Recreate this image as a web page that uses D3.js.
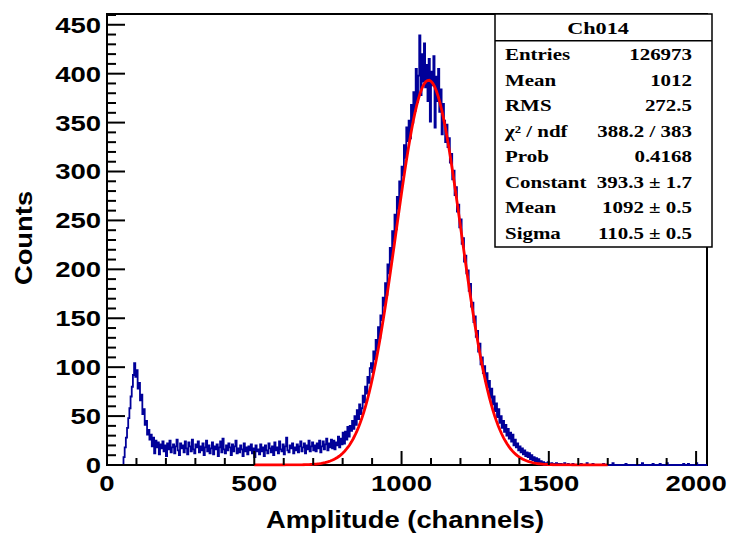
<!DOCTYPE html>
<html>
<head>
<meta charset="utf-8">
<script src="https://cdn.jsdelivr.net/npm/d3@7/dist/d3.min.js"></script>
<style>
  body { margin: 0; background: #fff; }
  svg { display: block; }
</style>
</head>
<body>
<svg width="730" height="534"></svg>
<script>
// histogram: one value per 4 channels (counts per channel)
const binWidth = 4;
const counts = [
    0, 0, 0, 0, 0, 0, 0, 0, 0, 0, 0, 0, 0, 0, 8, 18,
    28, 38, 48, 58, 70, 80, 92, 104, 90, 97, 78, 84, 66, 72, 52, 57,
    41, 45, 31, 36, 26, 31, 19, 28, 12, 25, 18, 23, 11, 21, 17, 24,
    14, 20, 9, 22, 16, 25, 13, 18, 21, 12, 19, 26, 15, 10, 22, 17,
    20, 13, 24, 17, 11, 23, 19, 14, 26, 16, 12, 21, 18, 24, 13, 19,
    15, 22, 10, 18, 25, 14, 20, 12, 17, 23, 11, 19, 16, 21, 9, 18,
    24, 13, 27, 16, 12, 20, 15, 22, 18, 10, 21, 14, 19, 25, 12, 17,
    13, 20, 16, 9, 22, 14, 18, 11, 19, 15, 21, 12, 17, 8, 20, 14,
    16, 11, 21, 14, 18, 9, 20, 15, 12, 22, 17, 13, 19, 10, 23, 15,
    18, 12, 24, 16, 14, 21, 11, 19, 28, 15, 13, 20, 17, 22, 12, 18,
    15, 21, 13, 19, 24, 14, 18, 22, 12, 20, 16, 25, 14, 19, 23, 15,
    20, 14, 22, 17, 25, 13, 19, 24, 16, 21, 27, 15, 22, 18, 26, 17,
    25, 16, 23, 20, 29, 18, 27, 21, 33, 22, 34, 26, 39, 29, 40, 35,
    45, 37, 50, 41, 56, 47, 62, 52, 58, 71, 64, 80, 73, 90, 84, 99,
    104, 95, 116, 108, 128, 117, 141, 130, 153, 148, 171, 163, 186, 174, 205, 196,
    222, 210, 239, 228, 256, 241, 274, 262, 290, 279, 305, 296, 327, 314, 345, 331,
    352, 334, 368, 350, 381, 362, 405, 371, 398, 439, 378, 420, 392, 431, 386, 409,
    372, 415, 351, 402, 388, 418, 345, 397, 372, 405, 361, 384, 338, 369, 352, 330,
    348, 325, 334, 309, 318, 292, 301, 276, 284, 259, 266, 243, 251, 226, 232, 208,
    214, 196, 199, 178, 185, 162, 166, 146, 152, 131, 137, 116, 124, 103, 110, 94,
    101, 86, 94, 79, 86, 69, 78, 62, 70, 55, 63, 49, 57, 43, 50, 38,
    45, 34, 41, 30, 37, 27, 33, 24, 31, 20, 26, 18, 22, 15, 19, 13,
    17, 11, 15, 9, 13, 8, 12, 6, 10, 5, 8, 4, 7, 3, 6, 2,
    4, 1, 3, 0, 2, 1, 3, 0, 1, 2, 0, 1, 0, 2, 0, 1,
    0, 1, 0, 0, 2, 0, 0, 1, 0, 0, 0, 1, 0, 0, 0, 0,
    0, 0, 1, 0, 0, 0, 0, 2, 0, 0, 0, 0, 1, 0, 0, 0,
    0, 0, 0, 0, 0, 1, 0, 0, 0, 0, 0, 0, 0, 2, 0, 0,
    0, 0, 0, 0, 0, 0, 0, 0, 1, 0, 0, 0, 0, 0, 0, 0,
    0, 0, 0, 0, 0, 0, 2, 0, 0, 0, 0, 0, 0, 0, 0, 1,
    0, 0, 0, 0, 0, 1, 0, 0, 0, 0, 0, 2, 0, 0, 0, 0,
    0, 0, 0, 0, 0, 0, 0, 0, 0, 1, 0, 0, 0, 1, 0, 0,
    0, 0, 0, 0, 2, 0, 0, 0, 0, 0, 0, 0, 0, 0, 0, 0,
];

// gaussian fit: constant, mean, sigma (from the stats box) and drawn range
const fitParams = [393.3, 1092, 110.5];
const fitRange = [500, 1700];

const xTicks = [0, 500, 1000, 1500, 2000];
const yTicks = [0, 50, 100, 150, 200, 250, 300, 350, 400, 450];

const statTitle = "Ch014";
const statLabels = ["Entries", "Mean", "RMS", "χ² / ndf", "Prob", "Constant", "Mean", "Sigma"];
const statValues = ["126973", "1012", "272.5", "388.2 / 383", "0.4168", "393.3 ± 1.7", "1092 ± 0.5", "110.5 ± 0.5"];

const fLeft = 107, fRight = 707, fTop = 14, fBottom = 465;

const x = d3.scaleLinear().domain([0, 2037]).range([fLeft, fRight]);
const y = d3.scaleLinear().domain([0, 461]).range([fBottom, fTop]);

const svg = d3.select("svg");
const sans = "'Liberation Sans', Arial, Helvetica, sans-serif";
const serif = "'Liberation Serif', 'Times New Roman', serif";

// text placed with a transform so it can be widened like the original fonts
function label(g, str, px, py, o) {
    const t = g.append("text")
        .attr("transform", `translate(${px},${py})${o.rot ? ` rotate(${o.rot})` : ""} scale(${o.sx || 1},1)`)
        .attr("text-anchor", o.anchor || "start")
        .attr("font-family", o.family || sans)
        .attr("font-weight", "bold")
        .attr("font-size", o.size)
        .text(str);
    if (o.dy) t.attr("dy", o.dy);
    return t;
}

svg.append("defs").append("clipPath").attr("id", "frame")
    .append("rect").attr("x", fLeft).attr("y", fTop).attr("width", fRight - fLeft).attr("height", fBottom - fTop + 1.5);

// frame (drawn under the histogram, as ROOT does)
svg.append("rect")
    .attr("x", fLeft).attr("y", fTop).attr("width", fRight - fLeft).attr("height", fBottom - fTop)
    .attr("fill", "none").attr("stroke", "#000").attr("stroke-width", 2);

// histogram as step line
const pts = counts.map((c, i) => [i * binWidth, c]);
pts.push([counts.length * binWidth, counts[counts.length - 1]]);
const histLine = d3.line()
    .x((d) => x(d[0]))
    .y((d) => y(d[1]))
    .curve(d3.curveStepAfter);

const plot = svg.append("g").attr("clip-path", "url(#frame)");
plot.append("path")
    .attr("d", histLine(pts))
    .attr("fill", "none")
    .attr("stroke", "#000099")
    .attr("stroke-width", 1.8);

// fit curve
const [A, mu, sig] = fitParams;
const fitPts = d3.range(fitRange[0], fitRange[1] + 1, 6).map((v) => [v, A * Math.exp(-0.5 * ((v - mu) / sig) ** 2)]);
plot.append("path")
    .attr("d", d3.line().x((d) => x(d[0])).y((d) => y(d[1]))(fitPts))
    .attr("fill", "none")
    .attr("stroke", "#ff0000")
    .attr("stroke-width", 2.8);

// ticks
const tickG = svg.append("g").attr("stroke", "#000").attr("stroke-width", 2);
d3.range(0, 461, 10).forEach((v) => {
    const len = v % 50 === 0 ? 18 : 9;
    tickG.append("line").attr("x1", fLeft).attr("x2", fLeft + len).attr("y1", y(v)).attr("y2", y(v));
});
d3.range(0, 2037, 100).forEach((v) => {
    const len = v % 500 === 0 ? 14 : 7;
    tickG.append("line").attr("x1", x(v)).attr("x2", x(v)).attr("y1", fBottom).attr("y2", fBottom - len);
});

// tick labels
const lab = svg.append("g");
yTicks.forEach((v) => label(lab, v, fLeft - 6, y(v), { anchor: "end", size: 22, sx: 1.25, dy: "0.36em" }));
xTicks.forEach((v) => label(lab, v, x(v), 491, { anchor: "middle", size: 22, sx: 1.25 }));

// axis titles
label(lab, "Amplitude (channels)", 405, 528, { anchor: "middle", size: 23, sx: 1.19 });
label(lab, "Counts", 32, 238, { anchor: "middle", size: 23, sx: 1.19, rot: -90 });

// stats box
const bx = 495, by = 14, bw = 217, bh = 233, hdr = 26.7, rowH = 25.5;
const box = svg.append("g");
box.append("rect").attr("x", bx).attr("y", by).attr("width", bw).attr("height", bh)
    .attr("fill", "#fff").attr("stroke", "#000").attr("stroke-width", 1.5);
box.append("line").attr("x1", bx).attr("x2", bx + bw).attr("y1", by + hdr).attr("y2", by + hdr)
    .attr("stroke", "#000").attr("stroke-width", 1.5);
label(box, statTitle, 598, 34, { anchor: "middle", size: 17.5, sx: 1.27, family: serif });
statLabels.forEach((s, i) => {
    const ty = 60.3 + i * rowH;
    label(box, s, 505, ty, { size: 16.5, sx: 1.27, family: serif });
    label(box, statValues[i], 692, ty, { anchor: "end", size: 16.5, sx: 1.27, family: serif });
});
</script>
</body>
</html>
